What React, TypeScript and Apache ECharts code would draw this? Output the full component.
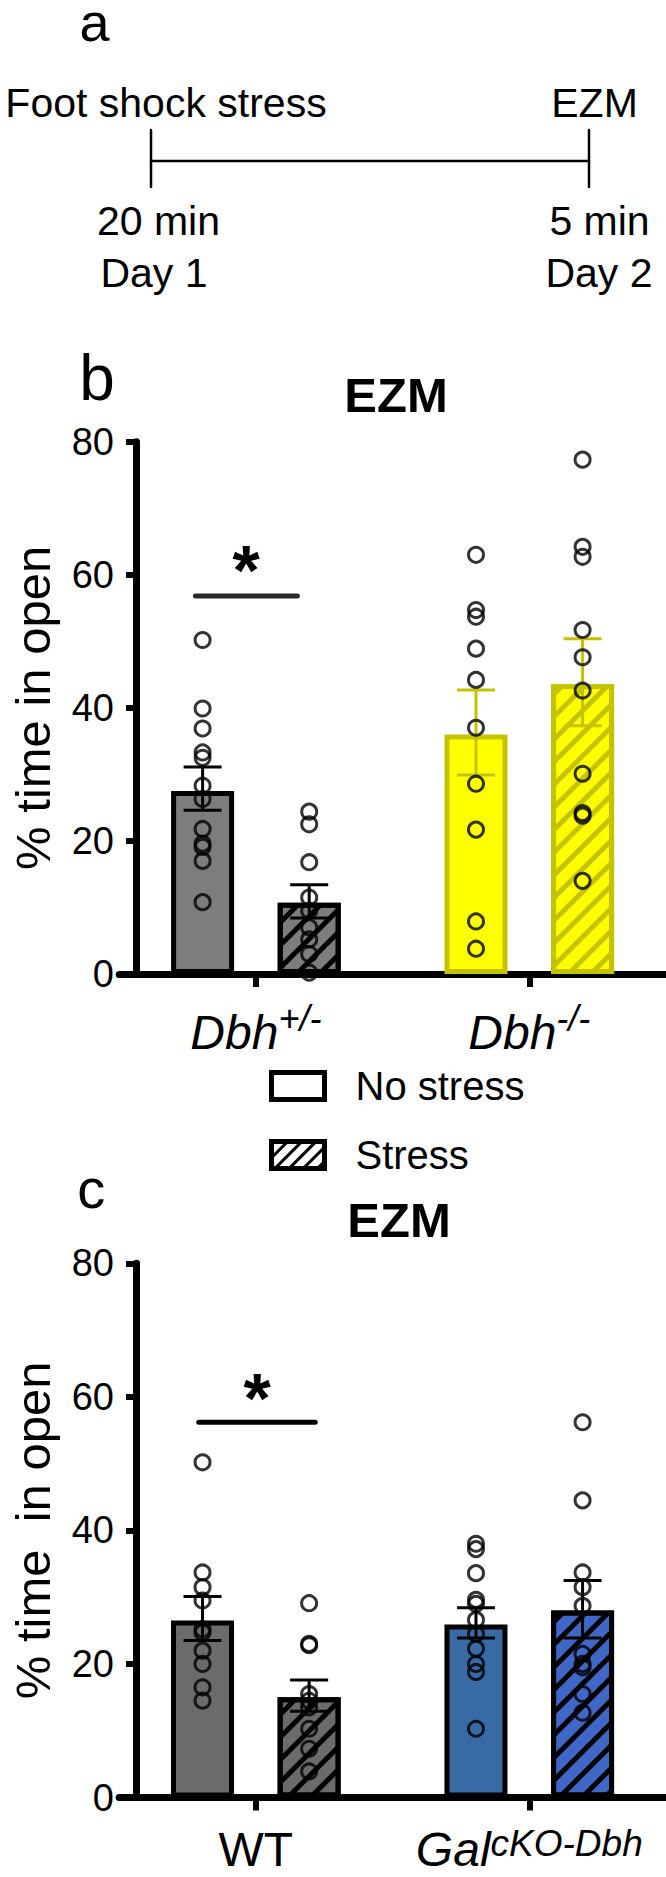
import React, { useEffect, useRef } from 'react';
import * as echarts from 'echarts';

const FONT = '"Liberation Sans", Arial, Helvetica, sans-serif';

// ---------- data ----------
const groupsB = ['Dbh+/-', 'Dbh-/-'];
const groupsBMain = ['Dbh', 'Dbh'];
const groupsBSup = ['+/-', '-/-'];
const groupsC = ['WT', 'GalcKO-Dbh'];
const groupsCMain = ['WT', 'Gal'];
const groupsCSup = ['', 'cKO-Dbh'];

const legendNames = ['No stress', 'Stress'];

// panel b (Dbh+/-, Dbh-/-)
const barB_noStress = [27.5, 36.0];
const barB_stress = [10.7, 43.6];
const errB_noStress_lo = [24.6, 29.9];
const errB_noStress_hi = [31.1, 42.7];
const errB_stress_lo = [8.4, 37.3];
const errB_stress_hi = [13.4, 50.4];
const ptsB_noStress_het = [50.2, 39.9, 36.9, 33.3, 32.5, 28.3, 26.3, 21.8, 19.6, 19.1, 17.0, 10.8];
const ptsB_noStress_ko = [63.0, 54.7, 53.7, 48.9, 44.2, 37.0, 28.6, 21.7, 7.9, 3.8];
const ptsB_stress_het = [24.4, 22.5, 16.8, 11.5, 9.5, 7.0, 5.2, 3.0, 0.2];
const ptsB_stress_ko = [77.3, 64.2, 62.7, 51.7, 47.6, 42.6, 30.1, 24.2, 23.8, 14.0];

// panel c (WT, Gal cKO-Dbh)
const barC_noStress = [26.5, 25.9];
const barC_stress = [15.0, 28.0];
const errC_noStress_lo = [23.5, 23.9];
const errC_noStress_hi = [30.1, 28.4];
const errC_stress_lo = [12.9, 23.9];
const errC_stress_hi = [17.6, 32.5];
const ptsC_noStress_wt = [50.2, 33.7, 31.5, 29.5, 25.2, 24.7, 22.0, 20.0, 16.5, 14.5];
const ptsC_noStress_cko = [38.0, 37.2, 33.6, 29.6, 29.0, 26.6, 24.5, 22.3, 20.0, 18.8, 10.3];
const ptsC_stress_wt = [29.1, 23.0, 22.8, 15.5, 14.5, 13.5, 10.3, 7.3, 3.9];
const ptsC_stress_cko = [56.2, 44.5, 33.7, 31.5, 28.7, 21.5, 20.0, 19.5, 15.5, 12.7];

const Y_MIN = 0;
const Y_MAX = 80;
const Y_STEP = 20;

// ---------- styles ----------
const GREY_B = '#7d7d7d';
const GREY_C = '#6b6b6b';
const YELLOW = '#ffff00';
const OLIVE = '#c3c300';
const BLUE = '#386aa6';
const BLUE2 = '#3f67c8';

const BAR_W = 63;
const BORDER = 5;
const OFF = 53.3; // half distance between paired bar centres
const CAP = 19;

const stripe = (color: string, w = 5, gap = 11) => ({
  symbol: 'rect',
  symbolSize: 1,
  color,
  dashArrayX: [1, 0],
  dashArrayY: [w, gap],
  rotation: -Math.PI / 4,
});

function barSeries(name: string, axis: number, values: number[], fills: string[], borders: string[], decals: any[] | null) {
  return {
    type: 'bar',
    name,
    xAxisIndex: axis,
    yAxisIndex: axis,
    barWidth: BAR_W,
    barGap: ((2 * OFF - BAR_W) / BAR_W) * 100 + '%',
    z: 2,
    silent: true,
    data: values.map((v, i) => ({
      value: v,
      itemStyle: {
        color: fills[i],
        borderColor: borders[i],
        borderWidth: BORDER,
        decal: decals ? decals[i] : undefined,
      },
    })),
  };
}

function errSeries(axis: number, lo: number[], hi: number[], colors: string[], dir: number) {
  return {
    type: 'custom',
    xAxisIndex: axis,
    yAxisIndex: axis,
    z: 4,
    silent: true,
    data: lo.map((l, i) => [i, l, hi[i]]),
    renderItem: (params: any, api: any) => {
      const top = api.coord([api.value(0), api.value(2)]);
      const bot = api.coord([api.value(0), api.value(1)]);
      const x = top[0] + dir * OFF;
      const st = { stroke: colors[params.dataIndex], lineWidth: 3 };
      return {
        type: 'group',
        children: [
          { type: 'line', shape: { x1: x, y1: top[1], x2: x, y2: bot[1] }, style: st },
          { type: 'line', shape: { x1: x - CAP, y1: top[1], x2: x + CAP, y2: top[1] }, style: st },
          { type: 'line', shape: { x1: x - CAP, y1: bot[1], x2: x + CAP, y2: bot[1] }, style: st },
        ],
      };
    },
  };
}

function dotSeries(axis: number, a: number[], b: number[], dir: number) {
  return {
    type: 'scatter',
    xAxisIndex: axis,
    yAxisIndex: axis,
    z: 5,
    silent: true,
    symbol: 'circle',
    symbolSize: 15,
    symbolOffset: [dir * OFF, 0],
    itemStyle: { color: 'rgba(0,0,0,0)', borderColor: '#000', borderWidth: 3 },
    data: [...a.map((v) => [0, v]), ...b.map((v) => [1, v])],
  };
}

function xAxisCfg(grid: number, cats: string[], fmt: (v: string, i: number) => string, rich: any, margin: number) {
  return {
    type: 'category',
    gridIndex: grid,
    data: cats,
    axisLine: { show: true, lineStyle: { color: '#000', width: 7 } },
    axisTick: { show: true, alignWithLabel: true, length: 13, lineStyle: { color: '#000', width: 6 } },
    axisLabel: { show: true, margin, formatter: fmt, rich, interval: 0 },
    splitLine: { show: false },
  };
}

function yAxisCfg(grid: number, name: string, offset: number) {
  return {
    type: 'value',
    gridIndex: grid,
    min: Y_MIN,
    max: Y_MAX,
    interval: Y_STEP,
    offset,
    name,
    nameLocation: 'middle',
    nameRotate: 90,
    nameGap: 79,
    nameTextStyle: { fontSize: 49, fontFamily: FONT, color: '#000' },
    axisLine: { show: true, lineStyle: { color: '#000', width: 7 } },
    axisTick: { show: true, length: 10, lineStyle: { color: '#000', width: 6 } },
    axisLabel: { show: true, fontSize: 38, fontFamily: FONT, color: '#000', margin: 22 },
    splitLine: { show: false },
  };
}

const T = (text: string, x: number, y: number, size: number, extra: any = {}) => ({
  type: 'text',
  x,
  y,
  silent: true,
  style: {
    text,
    fontSize: size,
    fontFamily: FONT,
    fill: '#000',
    align: 'center',
    verticalAlign: 'middle',
    ...extra,
  },
});

const L = (x1: number, y1: number, x2: number, y2: number, w: number, color = '#000') => ({
  type: 'line',
  silent: true,
  shape: { x1, y1, x2, y2 },
  style: { stroke: color, lineWidth: w, lineCap: 'round' },
});

function buildOption(): any {
  const richB = {
    m: { fontSize: 48, fontStyle: 'italic', fontFamily: FONT, color: '#000', lineHeight: 64 },
    s: { fontSize: 36, fontStyle: 'italic', fontFamily: FONT, color: '#000', verticalAlign: 'top', lineHeight: 32 },
  };
  const richC = {
    n: { fontSize: 48, fontFamily: FONT, color: '#000', lineHeight: 50 },
    m: { fontSize: 48, fontStyle: 'italic', fontFamily: FONT, color: '#000', lineHeight: 50 },
    s: { fontSize: 37, fontStyle: 'italic', fontFamily: FONT, color: '#000', verticalAlign: 'top', lineHeight: 32 },
  };

  return {
    animation: false,
    backgroundColor: '#fff',
    grid: [
      { left: 111.7, top: 441.7, width: 567.6, height: 532.3 },
      { left: 115.1, top: 1263.3, width: 567.6, height: 534.2 },
    ],
    xAxis: [
      xAxisCfg(0, groupsB, (_v, i) => `{m|${groupsBMain[i]}}{s|${groupsBSup[i]}}`, richB, 26),
      xAxisCfg(1, groupsC, (_v, i) => (groupsCSup[i] ? `{m|${groupsCMain[i]}}{s|${groupsCSup[i]}}` : `{n|${groupsCMain[i]}}`), richC, 27),
    ],
    yAxis: [yAxisCfg(0, '% time in open', -16.8), yAxisCfg(1, '% time  in open', -16.9)],
    legend: [
      {
        data: [{ name: legendNames[0], icon: 'rect', itemStyle: { color: '#fff', borderColor: '#000', borderWidth: 5 } }],
        left: 269, top: 1066, orient: 'vertical', padding: 0, itemWidth: 53, itemHeight: 27, selectedMode: false,
        textStyle: { fontSize: 40, fontFamily: FONT, color: '#000', padding: [0, 0, 0, 26] },
      },
      {
        data: [{ name: legendNames[1], icon: 'rect', itemStyle: { color: '#fff', borderColor: '#000', borderWidth: 5, decal: stripe('#000', 3, 7) } }],
        left: 269, top: 1135, orient: 'vertical', padding: 0, itemWidth: 53, itemHeight: 27, selectedMode: false,
        textStyle: { fontSize: 40, fontFamily: FONT, color: '#000', padding: [0, 0, 0, 26] },
      },
    ],
    series: [
      barSeries(legendNames[0], 0, barB_noStress, [GREY_B, YELLOW], ['#000', OLIVE], null),
      barSeries(legendNames[1], 0, barB_stress, [GREY_B, YELLOW], ['#000', OLIVE], [stripe('#000'), stripe(OLIVE)]),
      errSeries(0, errB_noStress_lo, errB_noStress_hi, ['#000', OLIVE], -1),
      errSeries(0, errB_stress_lo, errB_stress_hi, ['#000', OLIVE], 1),
      dotSeries(0, ptsB_noStress_het, ptsB_noStress_ko, -1),
      dotSeries(0, ptsB_stress_het, ptsB_stress_ko, 1),

      barSeries(legendNames[0], 1, barC_noStress, [GREY_C, BLUE], ['#000', '#000'], null),
      barSeries(legendNames[1], 1, barC_stress, [GREY_C, BLUE2], ['#000', '#000'], [stripe('#000'), stripe('#000')]),
      errSeries(1, errC_noStress_lo, errC_noStress_hi, ['#000', '#000'], -1),
      errSeries(1, errC_stress_lo, errC_stress_hi, ['#000', '#000'], 1),
      dotSeries(1, ptsC_noStress_wt, ptsC_noStress_cko, -1),
      dotSeries(1, ptsC_stress_wt, ptsC_stress_cko, 1),
    ],
    graphic: [
      // panel a
      T('a', 94.5, 22, 54, { lineHeight: 40 }),
      T('Foot shock stress', 166, 102.8, 41),
      T('EZM', 594.5, 102.8, 41),
      L(151, 161, 589, 161, 2.5),
      L(151, 130, 151, 187, 2.5),
      L(589, 130, 589, 187, 2.5),
      T('20 min', 158.5, 220.8, 41),
      T('5 min', 599.5, 220.8, 41),
      T('Day 1', 154, 272.5, 41),
      T('Day 2', 599, 272.5, 41),
      // panel b
      T('b', 97, 377.8, 64),
      T('EZM', 396, 395, 49, { fontWeight: 'bold' }),
      L(195.4, 596, 297.4, 596, 5, '#2b2b2b'),
      T('*', 246, 571, 70, { fontWeight: 'bold' }),
      // panel c
      T('c', 91.3, 1188.6, 56),
      T('EZM', 399, 1219.7, 49, { fontWeight: 'bold' }),
      L(198.8, 1422.3, 315.2, 1422.3, 5),
      T('*', 257, 1398.5, 70, { fontWeight: 'bold' }),
    ],
  };
}

export default function App() {
  const ref = useRef<HTMLDivElement>(null);
  useEffect(() => {
    document.body.style.margin = '0';
    const chart = echarts.init(ref.current as HTMLDivElement, null, { renderer: 'svg' });
    chart.setOption(buildOption());
    return () => chart.dispose();
  }, []);
  return <div ref={ref} style={{ width: 666, height: 1877, background: '#fff' }} />;
}
